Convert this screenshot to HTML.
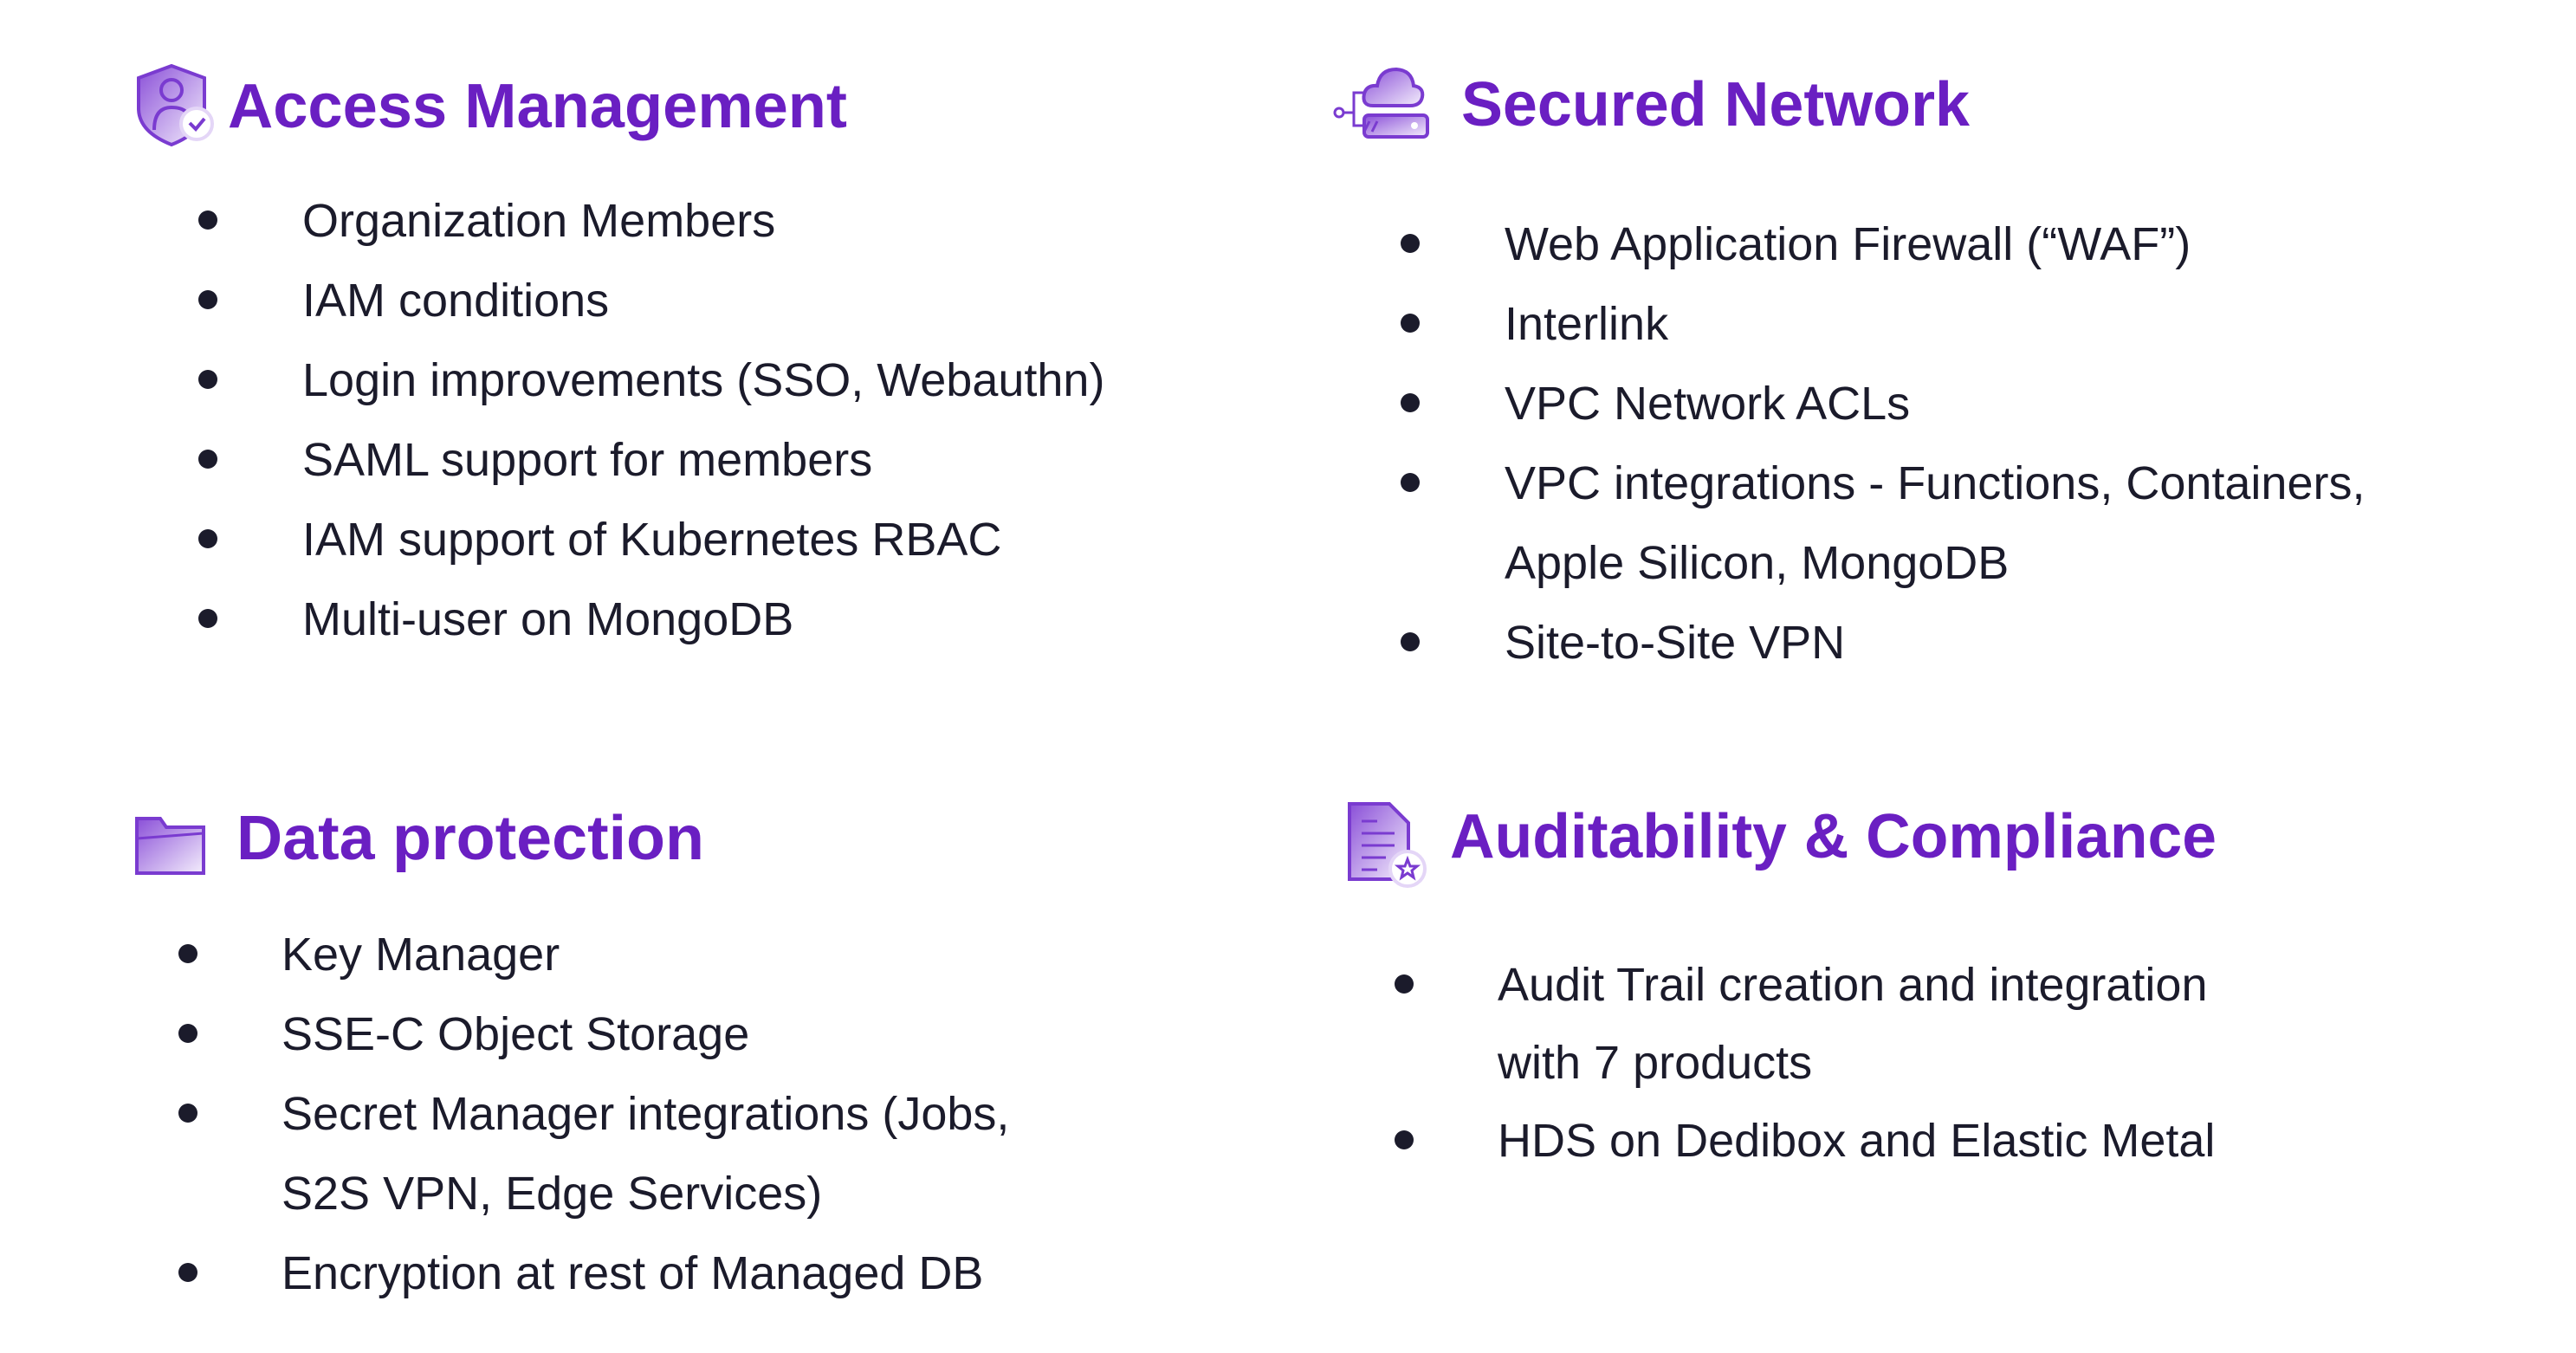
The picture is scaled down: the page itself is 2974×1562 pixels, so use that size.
<!DOCTYPE html>
<html><head><meta charset="utf-8"><style>
html,body{margin:0;padding:0;background:#fff;}
svg{display:block}
.h{font-family:"Liberation Sans",sans-serif;font-weight:bold;font-size:72px;fill:#6a1fc2;}
.t{font-family:"Liberation Sans",sans-serif;font-size:54px;fill:#1b1b2b;}
</style></head><body>
<svg width="2974" height="1562" viewBox="0 0 2974 1562" xmlns="http://www.w3.org/2000/svg">
<defs>
<linearGradient id="g" x1="0" y1="0" x2="1" y2="1">
<stop offset="0" stop-color="#8a4fd8"/><stop offset="1" stop-color="#f4eefc"/></linearGradient>
</defs>
<rect width="2974" height="1562" fill="#fff"/>

<path d="M198 76 L236 90 L236 125 Q236 152 198 167 Q160 152 160 125 L160 90 Z" fill="url(#g)" stroke="#7a3bd0" stroke-width="4"/>
<circle cx="198" cy="104" r="12" fill="none" stroke="#7a3bd0" stroke-width="4"/>
<path d="M178 150 Q178 124 198 124 Q214 124 218 134" fill="none" stroke="#7a3bd0" stroke-width="4"/>
<circle cx="227" cy="143" r="18" fill="#fff" stroke="#e4d6f7" stroke-width="4"/>
<path d="M219 142 L226 149 L236 137" fill="none" stroke="#7a3bd0" stroke-width="4"/>
<text class="h" x="263" y="147" textLength="715" lengthAdjust="spacingAndGlyphs">Access Management</text>

<path d="M1585 122 Q1572 122 1575 108 Q1578 98 1590 99 Q1593 80 1612 80 Q1630 81 1632 99 Q1644 101 1642 112 Q1640 122 1628 122 Z" fill="url(#g)" stroke="#7a3bd0" stroke-width="4"/>
<rect x="1575" y="133" width="73" height="25" rx="5" fill="url(#g)" stroke="#7a3bd0" stroke-width="4"/>
<path d="M1581 140 L1575 152 M1590 140 L1584 152" stroke="#7a3bd0" stroke-width="3"/>
<circle cx="1633" cy="145" r="4" fill="#fff"/>
<path d="M1575 107 L1563 107 L1563 145 L1575 145 M1563 130 L1550 130" fill="none" stroke="#7a3bd0" stroke-width="3"/>
<circle cx="1546" cy="130" r="5" fill="#fff" stroke="#7a3bd0" stroke-width="3"/>
<text class="h" x="1687" y="145" textLength="587" lengthAdjust="spacingAndGlyphs">Secured Network</text>

<path d="M158 945 L185 945 L192 955 L235 955 L235 1008 L158 1008 Z" fill="url(#g)" stroke="#7a3bd0" stroke-width="4"/>
<path d="M158 968 L235 962" stroke="#7a3bd0" stroke-width="3"/>
<text class="h" x="273" y="992" textLength="540" lengthAdjust="spacingAndGlyphs">Data protection</text>

<path d="M1558 928 L1604 928 L1626 950 L1626 1015 L1558 1015 Z" fill="url(#g)" stroke="#7a3bd0" stroke-width="4"/>
<path d="M1572 948 L1590 948 M1572 962 L1610 962 M1572 976 L1610 976 M1572 990 L1600 990 M1572 1004 L1590 1004" stroke="#7a3bd0" stroke-width="3"/>
<circle cx="1625" cy="1003" r="20" fill="#fff" stroke="#e4d6f7" stroke-width="4"/>
<path d="M1625 992 L1628 1000 L1636 1000 L1630 1005 L1632 1013 L1625 1008 L1618 1013 L1620 1005 L1614 1000 L1622 1000 Z" fill="none" stroke="#7a3bd0" stroke-width="3"/>
<text class="h" x="1674" y="990" textLength="885" lengthAdjust="spacingAndGlyphs">Auditability &amp; Compliance</text>

<g fill="#1b1b2b">
<circle cx="240" cy="254" r="11"/><circle cx="240" cy="346" r="11"/><circle cx="240" cy="438" r="11"/><circle cx="240" cy="530" r="11"/><circle cx="240" cy="622" r="11"/><circle cx="240" cy="714" r="11"/>
<circle cx="1628" cy="281" r="11"/><circle cx="1628" cy="373" r="11"/><circle cx="1628" cy="465" r="11"/><circle cx="1628" cy="557" r="11"/><circle cx="1628" cy="741" r="11"/>
<circle cx="217" cy="1101" r="11"/><circle cx="217" cy="1193" r="11"/><circle cx="217" cy="1285" r="11"/><circle cx="217" cy="1469" r="11"/>
<circle cx="1621" cy="1136" r="11"/><circle cx="1621" cy="1316" r="11"/>
</g>

<text class="t" x="349" y="273">Organization Members</text>
<text class="t" x="349" y="365">IAM conditions</text>
<text class="t" x="349" y="457">Login improvements (SSO, Webauthn)</text>
<text class="t" x="349" y="549">SAML support for members</text>
<text class="t" x="349" y="641">IAM support of Kubernetes RBAC</text>
<text class="t" x="349" y="733">Multi-user on MongoDB</text>

<text class="t" x="1737" y="300">Web Application Firewall (“WAF”)</text>
<text class="t" x="1737" y="392">Interlink</text>
<text class="t" x="1737" y="484">VPC Network ACLs</text>
<text class="t" x="1737" y="576">VPC integrations - Functions, Containers,</text>
<text class="t" x="1737" y="668">Apple Silicon, MongoDB</text>
<text class="t" x="1737" y="760">Site-to-Site VPN</text>

<text class="t" x="325" y="1120">Key Manager</text>
<text class="t" x="325" y="1212">SSE-C Object Storage</text>
<text class="t" x="325" y="1304">Secret Manager integrations (Jobs,</text>
<text class="t" x="325" y="1396">S2S VPN, Edge Services)</text>
<text class="t" x="325" y="1488">Encryption at rest of Managed DB</text>

<text class="t" x="1729" y="1155">Audit Trail creation and integration</text>
<text class="t" x="1729" y="1245">with 7 products</text>
<text class="t" x="1729" y="1335">HDS on Dedibox and Elastic Metal</text>
</svg>
</body></html>
